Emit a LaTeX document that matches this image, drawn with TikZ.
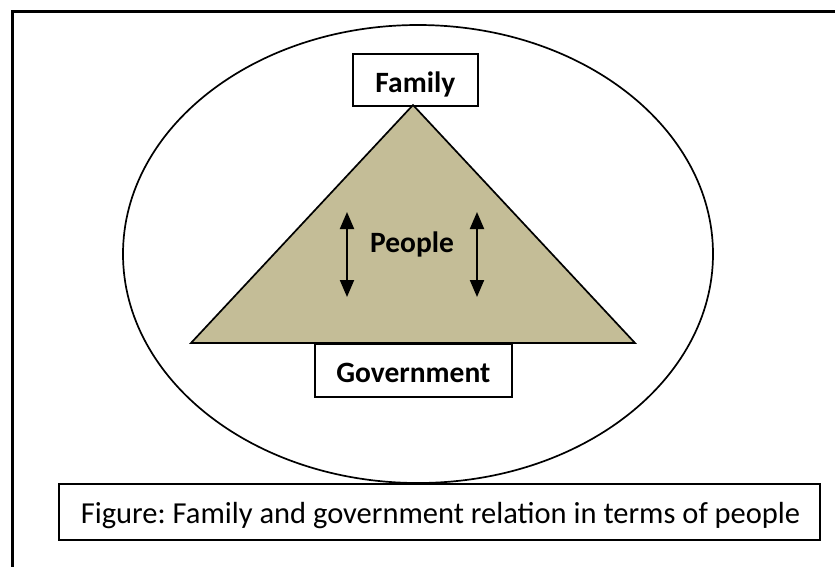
\documentclass[tikz,border=0pt]{standalone}
\usepackage{fontspec}
\setmainfont{Carlito}
\usetikzlibrary{arrows.meta,shapes.geometric}
\definecolor{tanfill}{HTML}{C4BD97}
\frenchspacing
\begin{document}
\begin{tikzpicture}[x=1pt,y=-1pt,
  boxnode/.style={draw=black,fill=white,line width=1.7pt,inner sep=0pt,anchor=north west},
  labtext/.style={font=\fontsize{29.5}{35}\selectfont\bfseries},
  captext/.style={font=\fontsize{30.5}{36}\selectfont},
  twoway/.style={line width=2pt,{Triangle[width=14pt,length=17pt]}-{Triangle[width=14pt,length=17pt]}}]
\useasboundingbox (0,0) rectangle (835,566);
\begin{scope}
\clip (0,0) rectangle (835,566);
\draw[line width=2.2pt] (12.5,11.5) rectangle (850,580);
\end{scope}
\node[draw=black,line width=1.7pt,ellipse,minimum width=590pt,minimum height=458pt,inner sep=0pt] (world) at (418,254) {};
\node[boxnode,labtext,minimum width=125pt,text height=39pt,text depth=13pt] (family) at (352,53) {Family};
\coordinate (apex) at (413,105);
\coordinate (baseL) at (191,343);
\coordinate (baseR) at (635,343);
\filldraw[fill=tanfill,draw=black,line width=1.7pt,line join=miter] (apex) -- (baseR) -- (baseL) -- cycle;
\node[boxnode,labtext,minimum width=197pt,text height=39pt,text depth=14pt] (gov) at (314,343) {Government};
\node[labtext,anchor=base,inner sep=0pt] (people) at (412,252) {People};
\coordinate (la1) at (347,212);
\coordinate (la2) at (347,297);
\coordinate (ra1) at (477,212);
\coordinate (ra2) at (477,297);
\draw[twoway] (la1) -- (la2);
\draw[twoway] (ra1) -- (ra2);
\node[boxnode,captext,inner xsep=22pt,text height=40pt,text depth=16pt,minimum width=761pt] (caption) at (58,483) {\makebox[717pt][l]{Figure: Family and government relation in terms of people}};
\end{tikzpicture}
\end{document}
